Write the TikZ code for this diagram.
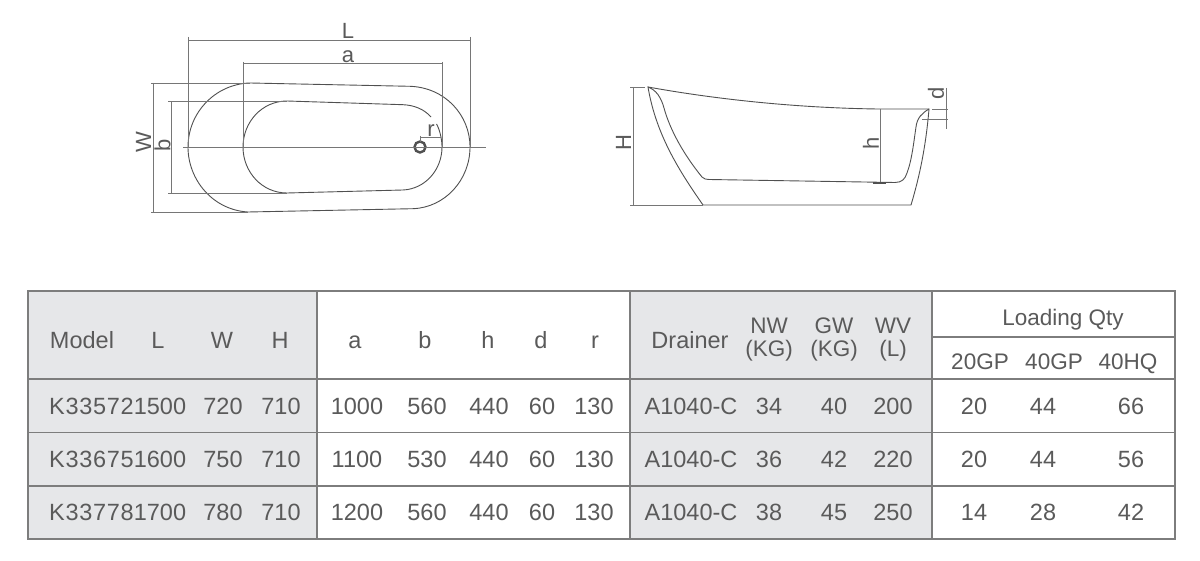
\documentclass[tikz,border=0pt]{standalone}
\usepackage{fontspec}
\setmainfont{Liberation Sans}
\definecolor{ink}{HTML}{5A5A5A}
\definecolor{rule}{HTML}{7D7D7D}
\definecolor{cellgrey}{HTML}{E6E7E9}
\definecolor{draft}{HTML}{505050}
\definecolor{dimc}{HTML}{767676}
\tikzset{
  cell/.style={inner sep=0pt,text=ink,text height=17pt,text depth=0pt,font=\fontsize{23.5}{24}\selectfont,anchor=center},
  small/.style={cell,font=\fontsize{22.5}{23}\selectfont},
  dimlabel/.style={inner sep=0pt,text=ink,font=\fontsize{22}{22}\selectfont,anchor=center},
  tablerule/.style={draw=rule,line width=1.4pt},
  outline/.style={draw=draft,line width=0.9pt},
  dimline/.style={draw=dimc,line width=0.8pt},
}
\begin{document}
\begin{tikzpicture}[x=1pt,y=-1pt]
\useasboundingbox (0,0) rectangle (1200,561);
\fill[white] (0,0) rectangle (1200,561);

% ---------- plan view ----------
\draw[outline] (250,83) -- (410,86.3)
  .. controls (445,87.5) and (470,115) .. (470,147)
  .. controls (470,180) and (445,207.5) .. (413,208.7)
  -- (248,212)
  .. controls (213,210) and (188,180) .. (188,147)
  .. controls (188,113) and (215,84) .. (250,83) -- cycle;
\draw[outline] (431,117) .. controls (424,109) and (414,105.2) .. (403,104.7)
  -- (287,101)
  .. controls (262,101) and (243,122) .. (243,147)
  .. controls (243,172) and (262,193) .. (287,193)
  -- (403,190)
  .. controls (425,189) and (442,170) .. (442,147)
  .. controls (442,140) and (440,130) .. (436.5,124);
\draw[draft,line width=2.4pt,fill=white] (420,147) circle (5.5);

\coordinate (Lt1) at (188,37); \coordinate (Lb1) at (188,147);
\coordinate (Lt2) at (470,37); \coordinate (Lb2) at (470,147);
\coordinate (at1) at (243,62); \coordinate (ab1) at (243,147);
\coordinate (at2) at (442,62); \coordinate (ab2) at (442,147);
\coordinate (cl) at (183,147); \coordinate (cr) at (486,147);
\draw[dimline] (Lt1) -- (Lb1) (Lt2) -- (Lb2) (at1) -- (ab1) (at2) -- (ab2);
\draw[dimline] (188,40) -- (470,40) (243,63.5) -- (442,63.5);
\draw[dimline] (cl) -- (cr);
\draw[dimline] (151,83) -- (250,83) (151,212) -- (248,212);
\draw[dimline] (168,101.3) -- (287,101.3) (168,193) -- (287,193);
\draw[dimline] (153,83) -- (153,212) (171,102) -- (171,193);
\draw[dimline] (420,136) -- (420,142) (420,137.5) -- (441,137.5);
\node[dimlabel] (labL) at (348,30.5) {L};
\node[dimlabel] (laba) at (348,57) {a};
\node[dimlabel,rotate=90] (labW) at (143.5,142) {W};
\node[dimlabel,rotate=90] (labb) at (162.5,145) {b};
\node[dimlabel] (labr) at (431,131) {r};

% ---------- side view ----------
\draw[outline] (648,87) .. controls (720,100) and (800,108) .. (878,109) -- (929,109)
  .. controls (926,145) and (920,175) .. (911,205) -- (703,205)
  .. controls (680,172) and (656,135) .. (648,87) -- cycle;
\draw[outline] (648,87) .. controls (656,90) and (661,97) .. (664,108)
  .. controls (670,130) and (684,155) .. (702,177)
  .. controls (704,179) and (706,179.5) .. (709,179.5)
  -- (895,182.5)
  .. controls (902,182.5) and (905,179) .. (907,173)
  .. controls (912,160) and (914,140) .. (916,127)
  .. controls (917,118) and (922,113) .. (929,109);
\draw[draft,line width=2pt] (873,183) -- (886,183);
\draw[dimline] (880,109) -- (880,182);
\draw[dimline] (633,87) -- (633,205);
\draw[dimline] (630,87.5) -- (645,87.5) (630,205) -- (703,205);
\draw[dimline] (946,88) -- (946,129);
\draw[dimline] (932,109) -- (948,109) (922,119) -- (948,119);
\node[dimlabel,rotate=90] (labH) at (623.5,143) {H};
\node[dimlabel,rotate=90] (labh) at (871,143) {h};
\node[dimlabel,rotate=90] (labd) at (936,93) {d};

% ---------- table ----------
\fill[cellgrey] (28,291) rectangle (317,539);
\fill[cellgrey] (630,291) rectangle (932,539);
\draw[tablerule] (28,291) rectangle (1175,539);
\draw[tablerule] (28,379) -- (1175,379) (28,432.5) -- (1175,432.5) (28,486) -- (1175,486);
\draw[tablerule] (317,291) -- (317,539) (630,291) -- (630,539) (932,291) -- (932,539);
\draw[tablerule] (932,337) -- (1175,337);

\foreach \nm/\x/\t in {mo/82/Model,hL/158/L,hW/222/W,hH/280/H,ha/355/a,hb/425/b,hh/488/h,hd/541/d,hr/595/r,hdr/690/Drainer}
  \node[cell] (\nm) at (\x,340) {\t};
\foreach \nm/\x/\t/\u in {nw/769/NW/(KG),gw/834/GW/(KG),wv/893/WV/(L)}{
  \node[small] (\nm a) at (\x,325) {\t};
  \node[small] (\nm b) at (\x,348) {\u};
}
\node[small] (lq) at (1063,317) {Loading Qty};
\foreach \nm/\x/\t in {g20/980/20GP,g40/1054/40GP,hq40/1128/40HQ}
  \node[small] (\nm) at (\x,361) {\t};

\foreach \r/\y/\m/\vl/\vw/\va/\vb/\nwv/\gwv/\wvv/\qa/\qb/\qc in {
  1/406/K33572/1500/720/1000/560/34/40/200/20/44/66,
  2/459/K33675/1600/750/1100/530/36/42/220/20/44/56,
  3/512/K33778/1700/780/1200/560/38/45/250/14/28/42}{
  \node[cell,anchor=west] (m\r) at (49,\y) {\addfontfeatures{LetterSpace=3}\m};
  \node[cell] (l\r) at (160,\y) {\vl};
  \node[cell] (w\r) at (223,\y) {\vw};
  \node[cell] (H\r) at (281,\y) {710};
  \node[cell] (a\r) at (357,\y) {\va};
  \node[cell] (b\r) at (427,\y) {\vb};
  \node[cell] (h\r) at (489,\y) {440};
  \node[cell] (d\r) at (542,\y) {60};
  \node[cell] (c\r) at (594,\y) {130};
  \node[cell] (dr\r) at (691,\y) {A1040-C};
  \node[cell] (n\r) at (769,\y) {\nwv};
  \node[cell] (g\r) at (834,\y) {\gwv};
  \node[cell] (v\r) at (893,\y) {\wvv};
  \node[cell] (qa\r) at (974,\y) {\qa};
  \node[cell] (qb\r) at (1043,\y) {\qb};
  \node[cell] (qc\r) at (1131,\y) {\qc};
}
\end{tikzpicture}
\end{document}
